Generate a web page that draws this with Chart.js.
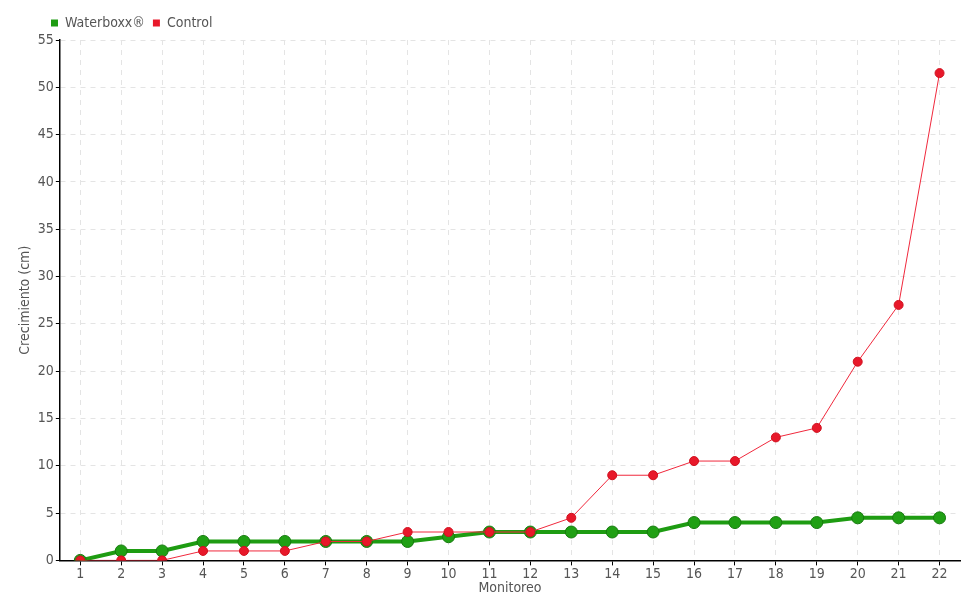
<!DOCTYPE html>
<html>
<head>
<meta charset="utf-8">
<script src="https://cdn.jsdelivr.net/npm/chart.js@4"></script>
<style>
  body { margin: 0; background: #fff; }
  #wrap { width: 980px; height: 600px; }
</style>
</head>
<body>
<div id="wrap"><canvas id="myCanvas"></canvas></div>
<script>
var monitoreo = ['1','2','3','4','5','6','7','8','9','10','11','12','13','14','15','16','17','18','19','20','21','22'];
var waterboxx = [0, 1, 1, 2, 2, 2, 2, 2, 2, 2.5, 3, 3, 3, 3, 3, 4, 4, 4, 4, 4.5, 4.5, 4.5];
var control = [0, 0, 0, 1, 1, 1, 2, 2, 3, 3, 3, 3, 4.5, 9, 9, 10.5, 10.5, 13, 14, 21, 27, 51.5];

var fontFam = "'Liberation Sans Narrow', 'DejaVu Sans Condensed', sans-serif";
var textCol = '#555';

// nudge the legend to the right, like the original
var legendShift = {
    id: 'legendShift',
    afterLayout: function (chart) {
        chart.legend.left += 28;
    }
};

var ctx = document.getElementById('myCanvas');
var chart = new Chart(ctx, {
    type: 'line',
    data: {
        labels: monitoreo,
        datasets: [
            {
                label: 'Waterboxx®',
                data: waterboxx,
                borderColor: '#1e9c12',
                backgroundColor: '#1e9c12',
                borderWidth: 4,
                pointRadius: 6,
                pointBorderWidth: 1,
                pointBorderColor: '#167a0e',
                pointBackgroundColor: '#20a014',
                tension: 0,
                order: 2
            },
            {
                label: 'Control',
                data: control,
                borderColor: '#f0283c',
                backgroundColor: '#e8182a',
                borderWidth: 1,
                pointRadius: 4.5,
                pointBorderWidth: 1,
                pointBorderColor: '#d0101e',
                pointBackgroundColor: '#e8182a',
                tension: 0,
                order: 1
            }
        ]
    },
    options: {
        responsive: true,
        maintainAspectRatio: false,
        animation: false,
        layout: { padding: { left: 15, right: 20, top: 8, bottom: 3 } },
        plugins: {
            legend: {
                position: 'top',
                align: 'start',
                labels: {
                    boxWidth: 7,
                    boxHeight: 7,
                    padding: 8,
                    color: textCol,
                    font: { family: fontFam, size: 14 },
                    sort: function (a, b) { return a.datasetIndex - b.datasetIndex; },
                    generateLabels: function (chart) {
                        var items = Chart.defaults.plugins.legend.labels.generateLabels(chart);
                        items.forEach(function (it) {
                            it.lineWidth = 0;
                            it.fillStyle = chart.data.datasets[it.datasetIndex].backgroundColor;
                        });
                        return items;
                    }
                }
            },
            tooltip: { enabled: false }
        },
        scales: {
            x: {
                offset: true,
                grid: {
                    offset: false,
                    color: '#e4e4e4',
                    tickColor: '#000',
                    tickLength: 5,
                    lineWidth: 1
                },
                border: { color: '#000', width: 1.5, dash: [5, 5] },
                ticks: {
                    color: textCol,
                    padding: 1,
                    maxRotation: 0,
                    font: { family: fontFam, size: 14 }
                },
                title: {
                    display: true,
                    text: 'Monitoreo',
                    color: textCol,
                    padding: { top: -4, bottom: 0 },
                    font: { family: fontFam, size: 14 }
                }
            },
            y: {
                min: 0,
                max: 55,
                grid: {
                    color: '#e4e4e4',
                    tickColor: '#000',
                    tickLength: 4,
                    lineWidth: 1
                },
                border: { color: '#000', width: 1.5, dash: [5, 5] },
                ticks: {
                    stepSize: 5,
                    color: textCol,
                    padding: 2,
                    font: { family: fontFam, size: 14 }
                },
                title: {
                    display: true,
                    text: 'Crecimiento (cm)',
                    color: textCol,
                    padding: 2,
                    font: { family: fontFam, size: 14 }
                }
            }
        }
    },
    plugins: [legendShift]
});
</script>
</body>
</html>
